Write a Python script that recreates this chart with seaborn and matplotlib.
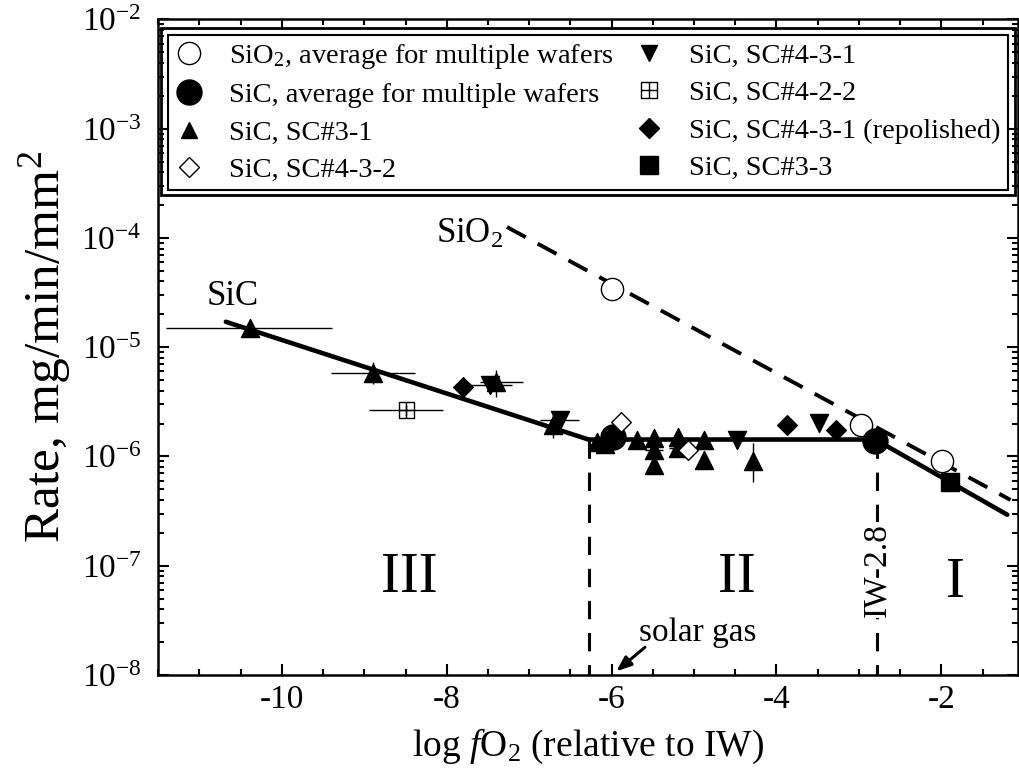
import numpy as np
import pandas as pd
import matplotlib
matplotlib.use("Agg")
import matplotlib.pyplot as plt
import seaborn as sns
from matplotlib.lines import Line2D
from matplotlib.path import Path
from matplotlib.patches import Rectangle
from matplotlib.ticker import FixedLocator, FuncFormatter, MultipleLocator, NullFormatter

# dados
sio2_avg_x = [-6.0, -2.98, -1.99]
sio2_avg_y = [3.4e-5, 1.95e-6, 9.0e-7]

sic_avg_x = [-5.98, -2.80]
sic_avg_y = [1.52e-6, 1.38e-6]

sc31_x = [-10.39, -8.89, -7.40, -6.71, -6.18, -6.08, -5.69, -5.49, -5.49, -5.49,
          -5.19, -5.19, -4.88, -4.88, -4.28]
sc31_y = [1.49e-5, 5.78e-6, 4.85e-6, 1.95e-6, 1.37e-6, 1.30e-6, 1.42e-6, 1.47e-6, 1.15e-6, 8.4e-7,
          1.52e-6, 1.19e-6, 1.42e-6, 9.3e-7, 9.0e-7]
sc31_xlo = [-11.40, -9.40, -7.60, -6.71, -6.18, -6.08, -5.69, -5.49, -5.60, -5.49,
            -5.19, -5.30, -4.88, -4.88, -4.28]
sc31_xhi = [-9.39, -8.39, -7.08, -6.71, -6.18, -6.08, -5.69, -5.49, -5.38, -5.49,
            -5.19, -5.08, -4.88, -4.88, -4.28]
sc31_ylo = [1.30e-5, 4.57e-6, 3.5e-6, 1.48e-6, 1.20e-6, 1.15e-6, 1.30e-6, 1.47e-6, 1.05e-6, 7.6e-7,
            1.52e-6, 1.05e-6, 1.42e-6, 8.4e-7, 5.9e-7]
sc31_yhi = [1.70e-5, 7.4e-6, 6.2e-6, 2.57e-6, 1.55e-6, 1.45e-6, 1.55e-6, 1.60e-6, 1.25e-6, 8.4e-7,
            1.65e-6, 1.25e-6, 1.55e-6, 9.3e-7, 1.32e-6]

sc432_x = [-5.88, -5.07]
sc432_y = [2.09e-6, 1.15e-6]

sc431_x = [-7.48, -6.63, -4.48, -3.49]
sc431_y = [4.52e-6, 2.16e-6, 1.42e-6, 2.02e-6]
sc431_xlo = [-7.75, -6.87, -4.48, -3.49]
sc431_xhi = [-7.21, -6.39, -4.48, -3.49]

sc422_x = [-8.49]
sc422_y = [2.67e-6]
sc422_xlo = [-8.94]
sc422_xhi = [-8.04]
sc422_ylo = [2.35e-6]
sc422_yhi = [2.95e-6]

rep_x = [-7.80, -3.87, -3.28]
rep_y = [4.37e-6, 1.95e-6, 1.75e-6]

sc33_x = [-1.89]
sc33_y = [5.9e-7]

# curvas ajustadas
sic_fit_x = [-10.68, -6.28, -2.80, -1.20]
sic_fit_y = [1.71e-5, 1.43e-6, 1.43e-6, 2.93e-7]
sio2_fit_x = [-7.27, -1.16]
sio2_fit_y = [1.26e-4, 4.0e-7]

solar_gas_x = -6.28
iw_x = -2.78

# ticks do eixo y
y_decades = [1e-8, 1e-7, 1e-6, 1e-5, 1e-4, 1e-3, 1e-2]
y_minor = [m * d for d in y_decades[:-1] for m in range(2, 10)]

legend_labels = ["SiO$_2$, average for multiple wafers",
                 "SiC, average for multiple wafers",
                 "SiC, SC#3-1",
                 "SiC, SC#4-3-2",
                 "SiC, SC#4-3-1",
                 "SiC, SC#4-2-2",
                 "SiC, SC#4-3-1 (repolished)",
                 "SiC, SC#3-3"]

# estilo
sns.set_style("ticks")
plt.rcParams["font.family"] = ["Liberation Serif", "DejaVu Serif"]
plt.rcParams["mathtext.fontset"] = "custom"
plt.rcParams["mathtext.rm"] = "Liberation Serif"
plt.rcParams["mathtext.it"] = "Liberation Serif:italic"
plt.rcParams["axes.unicode_minus"] = False
for k in ["text.color", "axes.labelcolor", "xtick.color", "ytick.color", "axes.edgecolor"]:
    plt.rcParams[k] = "black"

# marcador quadrado com cruz
sq_plus = Path([(-1, -1), (1, -1), (1, 1), (-1, 1), (-1, -1),
                (0, -1), (0, 1), (-1, 0), (1, 0)],
               [Path.MOVETO, Path.LINETO, Path.LINETO, Path.LINETO, Path.CLOSEPOLY,
                Path.MOVETO, Path.LINETO, Path.MOVETO, Path.LINETO])

fig = plt.figure(figsize=(10.19, 7.79), dpi=100)
ax = fig.add_axes([0.1553, 0.1335, 0.8437, 0.8415])
ax.set_yscale("log")
ax.set_xlim(-11.5, -1.07)
ax.set_ylim(1e-8, 1e-2)

# linhas
sns.lineplot(x=sic_fit_x, y=sic_fit_y, ax=ax, color="black", lw=3.3, sort=False, zorder=2)
sns.lineplot(x=sio2_fit_x, y=sio2_fit_y, ax=ax, color="black", lw=2.8, sort=False,
             zorder=2).lines[-1].set_dashes([5.5, 3.5])
ax.plot([solar_gas_x, solar_gas_x], [1.43e-6, 1e-8], color="black", lw=2.2, dashes=[6, 4.5], zorder=2)
ax.plot([iw_x, iw_x], [1.43e-6, 1e-8], color="black", lw=2.2, dashes=[6, 4.5], zorder=2)

# barras de erro
ax.errorbar(sc31_x, sc31_y,
            xerr=[np.subtract(sc31_x, sc31_xlo), np.subtract(sc31_xhi, sc31_x)],
            yerr=[np.subtract(sc31_y, sc31_ylo), np.subtract(sc31_yhi, sc31_y)],
            fmt="none", ecolor="black", elinewidth=1.0, capsize=0, zorder=3)
ax.errorbar(sc431_x, sc431_y,
            xerr=[np.subtract(sc431_x, sc431_xlo), np.subtract(sc431_xhi, sc431_x)],
            fmt="none", ecolor="black", elinewidth=1.0, capsize=0, zorder=3)
ax.errorbar(sc422_x, sc422_y,
            xerr=[np.subtract(sc422_x, sc422_xlo), np.subtract(sc422_xhi, sc422_x)],
            yerr=[np.subtract(sc422_y, sc422_ylo), np.subtract(sc422_yhi, sc422_y)],
            fmt="none", ecolor="black", elinewidth=1.0, capsize=0, zorder=3)

# pontos
series = [
    (sio2_avg_x, sio2_avg_y, "o", 16, "white"),
    (sic_avg_x, sic_avg_y, "o", 18, "black"),
    (sc31_x, sc31_y, "^", 13, "black"),
    (sc432_x, sc432_y, "D", 10, "white"),
    (sc431_x, sc431_y, "v", 13, "black"),
    (sc422_x, sc422_y, sq_plus, 11, "none"),
    (rep_x, rep_y, "D", 10, "black"),
    (sc33_x, sc33_y, "s", 12.5, "black"),
]
for xs, ys, mk, ms, fc in series:
    sns.scatterplot(x=xs, y=ys, ax=ax, marker=mk, s=ms ** 2, color="black",
                    facecolor=fc, edgecolor="black", linewidth=1.0, zorder=4)

# textos
ax.text(-10.6, 2.9e-5, "SiC", fontsize=25, ha="center", va="center")
ax.text(-7.32, 1.07e-4, "SiO$_2$", fontsize=25, ha="right", va="center")
ax.text(-8.45, 10 ** -7.11, "III", fontsize=41, ha="center", va="center")
ax.text(-4.48, 10 ** -7.11, "II", fontsize=41, ha="center", va="center")
ax.text(-1.83, 10 ** -7.16, "I", fontsize=41, ha="center", va="center")
ax.text(iw_x, 10 ** -7.04, "IW-2.8", fontsize=24, rotation=90, ha="center", va="center",
        bbox=dict(facecolor="white", edgecolor="none", pad=1))
ax.text(-4.96, 10 ** -7.61, "solar gas", fontsize=24, ha="center", va="center")
ax.annotate("", xy=(-5.97, 1.04e-8), xytext=(-5.57, 10 ** -7.73),
            arrowprops=dict(arrowstyle="-|>,head_length=0.9,head_width=0.35", color="black", lw=2.2))

# eixos
ax.set_xlabel("log $\\mathit{f}$O$_2$ (relative to IW)", fontsize=27, labelpad=8)
ax.set_ylabel("Rate, mg/min/mm$^2$", fontsize=37, labelpad=6)
ax.xaxis.set_major_locator(MultipleLocator(2))
ax.xaxis.set_minor_locator(MultipleLocator(0.5))
ax.yaxis.set_major_locator(FixedLocator(y_decades))
ax.yaxis.set_minor_locator(FixedLocator(y_minor))
ax.yaxis.set_major_formatter(FuncFormatter(lambda v, p: "$10^{%d}$" % round(np.log10(v))))
ax.yaxis.set_minor_formatter(NullFormatter())
ax.tick_params(which="both", direction="in", top=True, right=True, width=1.5, colors="black")
ax.tick_params(which="major", length=8)
ax.tick_params(which="minor", length=4.5)
ax.tick_params(axis="x", which="major", labelsize=24, pad=7)
ax.tick_params(axis="y", which="major", labelsize=24, pad=12)
for sp in ax.spines.values():
    sp.set_linewidth(1.8)

# legenda
handles = [
    Line2D([], [], ls="none", marker="o", ms=16, mfc="white", mec="black", mew=1.0),
    Line2D([], [], ls="none", marker="o", ms=18, mfc="black", mec="black"),
    Line2D([], [], ls="none", marker="^", ms=12, mfc="black", mec="black"),
    Line2D([], [], ls="none", marker="D", ms=10, mfc="white", mec="black", mew=1.0),
    Line2D([], [], ls="none", marker="v", ms=12, mfc="black", mec="black"),
    Line2D([], [], ls="none", marker=sq_plus, ms=11, mfc="none", mec="black", mew=1.0),
    Line2D([], [], ls="none", marker="D", ms=10, mfc="black", mec="black"),
    Line2D([], [], ls="none", marker="s", ms=12.5, mfc="black", mec="black"),
]
leg = ax.legend(handles, legend_labels, ncol=2, loc="upper left",
                bbox_to_anchor=(0.0113, 0.5, 0.977, 0.4764), mode="expand",
                borderaxespad=0, fontsize=20.5, frameon=True, fancybox=False,
                edgecolor="black", framealpha=1, handlelength=1.0, handletextpad=0.9,
                labelspacing=0.4, borderpad=0.25, columnspacing=0.6)
leg.get_frame().set_linewidth(1.5)

fig.canvas.draw()
bb = leg.get_frame().get_window_extent(fig.canvas.get_renderer())
(x0, y0), (x1, y1) = fig.transFigure.inverted().transform([[bb.x0 - 7, bb.y0 - 5], [bb.x1 + 7, bb.y1 + 7]])
fig.add_artist(Rectangle((x0, y0), x1 - x0, y1 - y0, transform=fig.transFigure,
                         fill=False, edgecolor="black", lw=2.0, zorder=10))

fig.savefig("out.png", dpi=100)
